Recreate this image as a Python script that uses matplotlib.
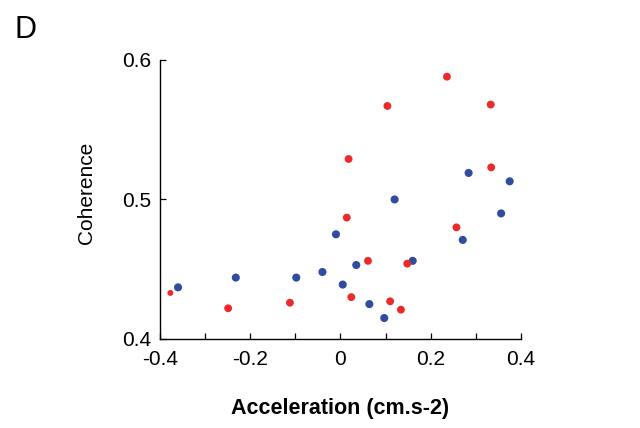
#!/usr/bin/env python3
"""
Coherence vs acceleration scatter (panel D)
out: out.png
"""
import numpy as np
import matplotlib
matplotlib.use("Agg")
import matplotlib.pyplot as plt

plt.rcParams["font.family"] = ["Liberation Sans", "DejaVu Sans"]

# red group
red_x = [-0.377, -0.249, -0.112, 0.014, 0.018, 0.024, 0.061, 0.104, 0.110,
         0.134, 0.148, 0.236, 0.257, 0.333, 0.334]
red_y = [0.433, 0.422, 0.426, 0.487, 0.529, 0.430, 0.456, 0.567, 0.427,
         0.421, 0.454, 0.588, 0.480, 0.568, 0.523]
# blue group
blue_x = [-0.360, -0.232, -0.098, -0.040, -0.010, 0.005, 0.035, 0.064, 0.097,
          0.120, 0.160, 0.271, 0.284, 0.356, 0.375]
blue_y = [0.437, 0.444, 0.444, 0.448, 0.475, 0.439, 0.453, 0.425, 0.415,
          0.500, 0.456, 0.471, 0.519, 0.490, 0.513]

x_major = [-0.4, -0.2, 0.0, 0.2, 0.4]
x_labels = ["-0.4", "-0.2", "0", "0.2", "0.4"]
x_minor = [-0.3, -0.1, 0.1, 0.3]
y_major = [0.4, 0.5, 0.6]
y_labels = ["0.4", "0.5", "0.6"]

red_c = "#ED2A2A"
blue_c = "#2F4C9E"

fig = plt.figure(figsize=(6.4, 4.28), dpi=100)
ax = fig.add_axes([0.25, 0.208, 0.564, 0.652])

# first red point is drawn smaller in the original
red_s = np.full(len(red_x), 32.0); red_s[0] = 18.0
ax.scatter(blue_x, blue_y, s=34, c=blue_c, edgecolors="none", zorder=3)
ax.scatter(red_x, red_y, s=red_s, c=red_c, edgecolors="none", zorder=3)

ax.set_xlim(-0.4, 0.4); ax.set_ylim(0.4, 0.6)
ax.set_xticks(x_major); ax.set_xticklabels(x_labels)
ax.set_xticks(x_minor, minor=True)
ax.set_yticks(y_major); ax.set_yticklabels(y_labels)

for s in ["top", "right"]:
  ax.spines[s].set_visible(False)
for s in ["left", "bottom"]:
  ax.spines[s].set_linewidth(1.0)
ax.tick_params(which="both", direction="in", length=4, width=0.9, labelsize=15)
ax.tick_params(axis="x", pad=8)
ax.tick_params(axis="y", pad=6)

ax.set_xlabel("Acceleration (cm.s-2)", fontsize=15.5, fontweight="bold", labelpad=21)
ax.set_ylabel("Coherence", fontsize=15, labelpad=19)
ax.yaxis.label.set_y(0.525)

fig.text(0.022, 0.93, "D", fontsize=22, ha="left", va="center")

fig.savefig("out.png", dpi=100)
print("done")
